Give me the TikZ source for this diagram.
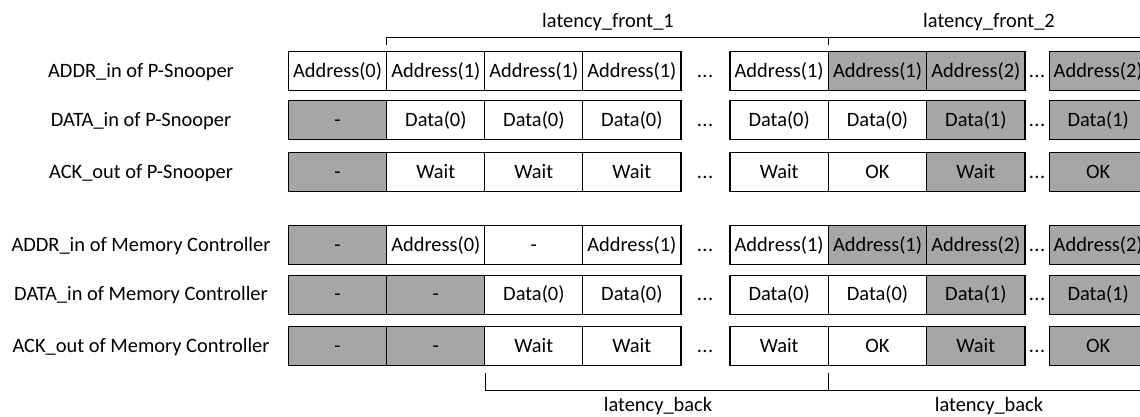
\documentclass[tikz,border=0pt]{standalone}
\usepackage{fontspec}
\setmainfont{Carlito}
\definecolor{cellgray}{RGB}{166,166,166}
\begin{document}
\begin{tikzpicture}[x=1bp,y=-1bp,
  every node/.style={font=\fontsize{20.5}{25}\selectfont,text height=15bp,text depth=3bp},
  cell/.style={draw=black,line width=1.1bp,minimum width=98.3bp,minimum height=39bp,inner sep=0pt,outer sep=0pt,anchor=center},
  wc/.style={cell,fill=white},
  gc/.style={cell,fill=cellgray},
  rowlab/.style={anchor=center,inner sep=0pt},
  dotlab/.style={anchor=center,inner sep=0pt},
  brk/.style={draw=black,line width=0.9bp},
  brklab/.style={anchor=center,inner sep=0pt}]
\useasboundingbox (0,0) rectangle (1140,416);
% column centres
\def\xa{337.5}\def\xb{435.85}\def\xc{533.85}\def\xd{631.85}
\def\xe{779.15}\def\xf{877.5}\def\xg{975.85}\def\xh{1098.2}
\def\dxa{705}\def\dxb{1037}
% row labels
\node[rowlab] (lab1) at (141,71.2) {ADDR\_in of P-Snooper};
\node[rowlab] (lab2) at (141,120.4) {DATA\_in of P-Snooper};
\node[rowlab] (lab3) at (141,172) {ACK\_out of P-Snooper};
\node[rowlab] (lab4) at (141,245) {ADDR\_in of Memory Controller};
\node[rowlab] (lab5) at (141,294.7) {DATA\_in of Memory Controller};
\node[rowlab] (lab6) at (141,346.2) {ACK\_out of Memory Controller};
% rows
\foreach \r/\y/\la/\sa/\lb/\sb/\lc/\sc/\ld/\sd/\le/\se/\lf/\sf/\lg/\sg/\lh/\sh in {
  1/71.2/Address(0)/wc/Address(1)/wc/Address(1)/wc/Address(1)/wc/Address(1)/wc/Address(1)/gc/Address(2)/gc/Address(2)/gc,
  2/120.4/-/gc/Data(0)/wc/Data(0)/wc/Data(0)/wc/Data(0)/wc/Data(0)/wc/Data(1)/gc/Data(1)/gc,
  3/172/-/gc/Wait/wc/Wait/wc/Wait/wc/Wait/wc/OK/wc/Wait/gc/OK/gc,
  4/245/-/gc/Address(0)/wc/-/wc/Address(1)/wc/Address(1)/wc/Address(1)/gc/Address(2)/gc/Address(2)/gc,
  5/294.7/-/gc/-/gc/Data(0)/wc/Data(0)/wc/Data(0)/wc/Data(0)/wc/Data(1)/gc/Data(1)/gc,
  6/346.2/-/gc/-/gc/Wait/wc/Wait/wc/Wait/wc/OK/wc/Wait/gc/OK/gc}{
  \node[\sa] (r\r c1) at (\xa,\y) {\la};
  \node[\sb] (r\r c2) at (\xb,\y) {\lb};
  \node[\sc] (r\r c3) at (\xc,\y) {\lc};
  \node[\sd] (r\r c4) at (\xd,\y) {\ld};
  \node[dotlab] (r\r d1) at (\dxa,\y) {.\kern0.5bp.\kern0.5bp.};
  \node[\se] (r\r c5) at (\xe,\y) {\le};
  \node[\sf] (r\r c6) at (\xf,\y) {\lf};
  \node[\sg] (r\r c7) at (\xg,\y) {\lg};
  \node[dotlab] (r\r d2) at (\dxb,\y) {.\kern0.5bp.\kern0.5bp.};
  \node[\sh] (r\r c8) at (\xh,\y) {\lh};
}
% top bracket
\coordinate (tA) at (386.7,45);
\coordinate (tAh) at (386.7,37.3);
\coordinate (tB) at (828.3,45);
\coordinate (tBh) at (828.3,37.3);
\coordinate (tE) at (1145,37.3);
\draw[brk] (tA) -- (tAh) -- (tE);
\draw[brk] (tB) -- (tBh);
\node[brklab] (lf1) at (608,21) {latency\_front\_1};
\node[brklab] (lf2) at (989,21) {latency\_front\_2};
% bottom bracket
\coordinate (bA) at (485,372.7);
\coordinate (bAh) at (485,390.3);
\coordinate (bB) at (828.3,372.7);
\coordinate (bBh) at (828.3,390.3);
\coordinate (bE) at (1145,390.3);
\draw[brk] (bA) -- (bAh) -- (bE);
\draw[brk] (bB) -- (bBh);
\node[brklab] (lb1) at (658,405) {latency\_back};
\node[brklab] (lb2) at (989,405) {latency\_back};
\end{tikzpicture}
\end{document}
